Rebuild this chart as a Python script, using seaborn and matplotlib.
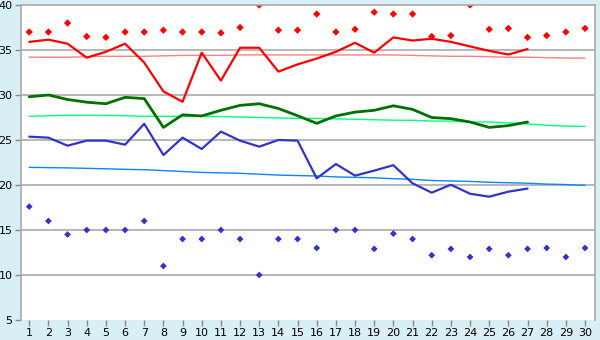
import matplotlib
matplotlib.use("Agg")
import matplotlib.pyplot as plt
import seaborn as sns
import pandas as pd

days = list(range(1, 31))
obs_days = list(range(1, 28))

record_high = [37, 37, 38, 36.5, 36.4, 37, 37, 37.2, 37, 37, 36.9, 37.5, 40, 37.2, 37.2,
               39, 37, 37.3, 39.2, 39, 39, 36.5, 36.6, 40, 37.3, 37.4, 36.4, 36.6, 37, 37.4]
record_low = [17.6, 16, 14.5, 15, 15, 15, 16, 11, 14, 14, 15, 14, 10, 14, 14,
              13, 15, 15, 12.9, 14.6, 14, 12.2, 12.9, 12, 12.9, 12.2, 12.9, 13, 12, 13]

max_temp = [35.9, 36.15, 35.7, 34.15, 34.8, 35.7, 33.6, 30.4, 29.25, 34.7, 31.6, 35.25,
            35.25, 32.6, 33.4, 34.05, 34.8, 35.8, 34.7, 36.4, 36.05, 36.25, 35.9, 35.4,
            34.9, 34.5, 35.1]
mean_temp = [29.8, 30.0, 29.5, 29.2, 29.03, 29.74, 29.6, 26.4, 27.8, 27.67, 28.3, 28.85,
             29.03, 28.5, 27.7, 26.85, 27.67, 28.1, 28.3, 28.8, 28.4, 27.5, 27.37, 27.0,
             26.4, 26.6, 27.0]
min_temp = [25.37, 25.26, 24.37, 24.93, 24.93, 24.48, 26.8, 23.33, 25.26, 24.0, 25.93,
            24.93, 24.26, 25.0, 24.93, 20.74, 22.33, 21.04, 21.6, 22.2, 20.19, 19.15,
            20.03, 19.03, 18.7, 19.26, 19.6]

normal_high = [34.2, 34.2, 34.2, 34.25, 34.3, 34.3, 34.3, 34.35, 34.4, 34.4, 34.4, 34.45,
               34.45, 34.45, 34.45, 34.45, 34.45, 34.45, 34.45, 34.45, 34.4, 34.35, 34.3,
               34.3, 34.25, 34.2, 34.2, 34.15, 34.1, 34.1]
normal_mean = [27.63, 27.7, 27.74, 27.74, 27.74, 27.7, 27.63, 27.63, 27.63, 27.63, 27.6,
               27.56, 27.5, 27.45, 27.4, 27.4, 27.35, 27.3, 27.25, 27.2, 27.19, 27.1, 27.1,
               27.0, 27.0, 26.9, 26.8, 26.63, 26.55, 26.5]
normal_low = [21.96, 21.93, 21.9, 21.85, 21.8, 21.74, 21.7, 21.6, 21.5, 21.4, 21.35, 21.3,
              21.2, 21.1, 21.05, 21.0, 20.9, 20.85, 20.8, 20.7, 20.63, 20.5, 20.45, 20.4,
              20.3, 20.25, 20.2, 20.1, 20.05, 19.96]

yticks = [5, 10, 15, 20, 25, 30, 35, 40]

full = pd.DataFrame({"day": days, "rh": record_high, "rl": record_low,
                     "nh": normal_high, "nm": normal_mean, "nl": normal_low})
obs = pd.DataFrame({"day": obs_days, "mx": max_temp, "mn": mean_temp, "lo": min_temp})

sns.set_style("white")
bg = "#d9eff6"
fig = plt.figure(figsize=(6, 3.4), dpi=100, facecolor=bg)
ax = fig.add_axes([21 / 600, 1 - 320 / 340, (595 - 21) / 600, (320 - 5) / 340])
ax.set_facecolor("white")

for y in yticks[1:-1]:
    ax.axhline(y, color="#aaaaaa", lw=1.2, zorder=0)

sns.lineplot(data=full, x="day", y="nh", ax=ax, color="#ff8080", lw=1.0)
sns.lineplot(data=full, x="day", y="nm", ax=ax, color="#00ff80", lw=1.0)
sns.lineplot(data=full, x="day", y="nl", ax=ax, color="#0a84ff", lw=1.0)

sns.lineplot(data=obs, x="day", y="mx", ax=ax, color="#ff0000", lw=1.6)
sns.lineplot(data=obs, x="day", y="mn", ax=ax, color="#007000", lw=2.0)
sns.lineplot(data=obs, x="day", y="lo", ax=ax, color="#3333cc", lw=1.6)

sns.scatterplot(data=full, x="day", y="rh", ax=ax, color="#ff0000", marker="D", s=14,
                edgecolor="none")
sns.scatterplot(data=full, x="day", y="rl", ax=ax, color="#3333cc", marker="D", s=12,
                edgecolor="none")

ax.set_xlim(0.57, 30.52)
ax.set_ylim(5, 40)
ax.set_xticks(days)
ax.set_xticklabels([str(d) for d in days])
ax.set_yticks(yticks)
ax.set_xlabel("")
ax.set_ylabel("")
ax.tick_params(axis="both", labelsize=8, colors="#888888", labelcolor="black",
               length=4, width=1, direction="out", pad=2)
ax.tick_params(axis="both", which="both", bottom=True, left=True)
for side in ["left", "right", "top"]:
    ax.spines[side].set_color("#aaaaaa")
    ax.spines[side].set_linewidth(1.2)
ax.spines["bottom"].set_visible(False)

fig.savefig("out.png", dpi=100, facecolor=bg)
